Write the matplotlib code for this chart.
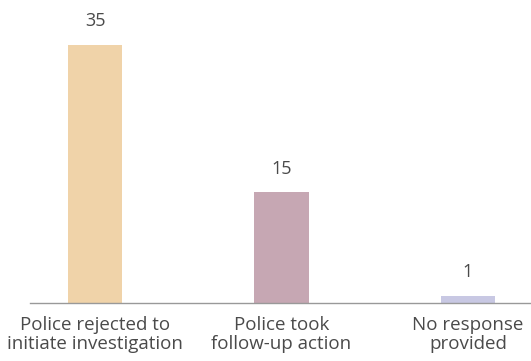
import matplotlib
matplotlib.use("Agg")
import matplotlib.pyplot as plt

categories = ["Police rejected to\ninitiate investigation",
              "Police took\nfollow-up action",
              "No response\nprovided"]
counts = [35, 15, 1]
colors = ["#F0D3A9", "#C6A7B3", "#C8C8E3"]

plt.rcParams["font.family"] = ["Open Sans", "DejaVu Sans"]

fig = plt.figure(figsize=(5.31, 3.61), dpi=100)
ax = fig.add_axes([30 / 531, 58 / 361, 501 / 531, 295 / 361])

x = list(range(len(categories)))
bars = ax.bar(x, counts, width=0.29, color=colors)

for rect, v in zip(bars, counts):
    ax.annotate(str(v), (rect.get_x() + rect.get_width() / 2, rect.get_height()),
                xytext=(0, 17), textcoords="offset points",
                ha="center", va="center", fontsize=13, color="#4a4a4a")

ax.set_xlim(-0.349, 2.338)
ax.set_ylim(0, 40)
ax.set_xticks(x)
ax.set_xticklabels(categories, fontsize=13.5, color="#4a4a4a", linespacing=1.1)
ax.tick_params(axis="x", length=0, pad=9)
ax.set_yticks([])
for s in ["top", "right", "left"]:
    ax.spines[s].set_visible(False)
ax.spines["bottom"].set_color("#999999")
ax.spines["bottom"].set_linewidth(1.0)

fig.savefig("out.png", dpi=100)
